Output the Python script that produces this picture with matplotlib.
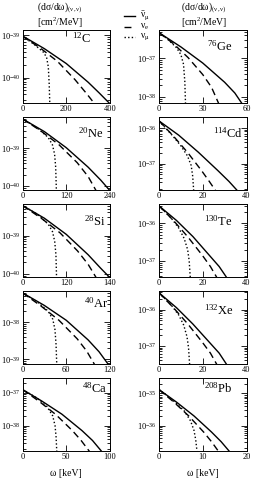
import numpy as np
import matplotlib
matplotlib.use('Agg')
import matplotlib.pyplot as plt
from matplotlib.lines import Line2D
from matplotlib.ticker import LogLocator, NullFormatter, FixedLocator

plt.rcParams['font.family'] = ['Liberation Serif', 'DejaVu Serif']
plt.rcParams['mathtext.fontset'] = 'custom'
plt.rcParams['mathtext.rm'] = 'Liberation Serif'
plt.rcParams['mathtext.it'] = 'Liberation Serif'
plt.rcParams['mathtext.bf'] = 'Liberation Serif:bold'

# panels in reading order: left, right per row
mass = ['12', '76', '20', '114', '28', '130', '40', '132', '48', '208']
element = ['C', 'Ge', 'Ne', 'Cd', 'Si', 'Te', 'Ar', 'Xe', 'Ca', 'Pb']
xmax = [400, 60, 240, 40, 140, 40, 120, 40, 100, 20]
xticks = [[0, 200, 400], [0, 30, 60], [0, 120, 240], [0, 20, 40], [0, 70, 140],
          [0, 20, 40], [0, 60, 120], [0, 20, 40], [0, 50, 100], [0, 10, 20]]
xticklabels = [['0', '200', '400'], ['0', '30', '60'], ['0', '120', '240'], ['0', '20', '40'],
               ['0', '120', '140'], ['0', '20', '40'], ['0', '60', '120'], ['0', '20', '40'],
               ['0', '50', '100'], ['0', '10', '20']]
# log10 of axis limits and labelled decades
ylog_min = [-40.6, -38.16, -40.11, -37.74, -40.08, -37.43, -39.13, -37.50, -38.77, -36.79]
ylog_max = [-38.88, -36.26, -38.16, -35.69, -38.18, -35.48, -37.16, -35.49, -36.55, -34.52]
ydecades = [[-40, -39], [-38, -37], [-40, -39], [-37, -36], [-40, -39],
            [-37, -36], [-39, -38], [-37, -36], [-38, -37], [-36, -35]]

# anti nu_mu (solid): omega [keV], log10 dsigma/domega
bar_x = [[0, 100, 200, 300, 350, 400], [0, 15, 30, 45, 52, 57],
         [0, 60, 120, 180, 215, 240], [0, 9, 18, 27, 32, 36],
         [0, 35, 70, 105, 125, 140], [0, 8, 15.5, 23, 27.5, 31],
         [0, 30, 60, 90, 105, 118], [0, 8, 15.5, 23, 27.5, 31],
         [0, 22, 45, 68, 80, 91], [0, 4, 8, 12, 14.2, 16.2]]
bar_y = [[-39.02, -39.32, -39.67, -40.11, -40.36, -40.62], [-36.33, -36.7, -37.12, -37.62, -37.9, -38.18],
         [-38.21, -38.55, -38.98, -39.5, -39.85, -40.13], [-35.80, -36.2, -36.68, -37.2, -37.5, -37.77],
         [-38.22, -38.55, -38.97, -39.5, -39.85, -40.1], [-35.53, -35.92, -36.35, -36.85, -37.15, -37.45],
         [-37.21, -37.55, -37.95, -38.48, -38.8, -39.15], [-35.54, -35.95, -36.4, -36.9, -37.2, -37.52],
         [-36.9, -37.25, -37.65, -38.15, -38.45, -38.8], [-34.88, -35.27, -35.7, -36.2, -36.5, -36.82]]

# nu_e (dashed)
e_x = [[0, 80, 160, 240, 290, 330], [0, 10, 20, 30, 36, 41],
       [0, 50, 100, 150, 180, 202], [0, 6.5, 13, 19.5, 23, 26],
       [0, 30, 60, 88, 105, 118], [0, 6.6, 13.2, 19.8, 23.5, 26.5],
       [0, 25, 50, 75, 88, 99], [0, 6.6, 13.2, 19.8, 23.5, 26.5],
       [0, 19, 38, 57, 67, 77], [0, 3.4, 6.8, 10.2, 12, 13.7]]
e_y = [[-39.03, -39.30, -39.62, -40.05, -40.36, -40.62], [-36.33, -36.62, -36.98, -37.42, -37.75, -38.18],
       [-38.21, -38.53, -38.9, -39.38, -39.75, -40.13], [-35.80, -36.22, -36.68, -37.2, -37.5, -37.77],
       [-38.22, -38.55, -38.93, -39.4, -39.75, -40.1], [-35.53, -35.92, -36.36, -36.85, -37.15, -37.45],
       [-37.21, -37.56, -37.95, -38.45, -38.78, -39.15], [-35.54, -35.95, -36.4, -36.9, -37.2, -37.52],
       [-36.9, -37.26, -37.66, -38.15, -38.45, -38.8], [-34.88, -35.27, -35.7, -36.2, -36.5, -36.82]]

# nu_mu (dotted)
mu_x = [[0, 49, 95, 110, 118, 122, 125], [0, 6, 12, 15, 16.8, 17.7, 18.2],
        [0, 40, 70, 82, 88, 91, 93], [0, 6, 10, 13, 14.7, 15.4, 15.9],
        [0, 24, 41, 48, 51.5, 53.5, 54.5], [0, 5.5, 9, 11.5, 13.1, 13.8, 14.3],
        [0, 20, 35, 41.5, 44.5, 46, 47], [0, 5.5, 9, 11.3, 12.8, 13.5, 14],
        [0, 16, 28, 34.5, 37.2, 38.4, 39.2], [0, 3.5, 5.8, 7.2, 8.0, 8.4, 8.7]]
mu_y = [[-39.03, -39.2, -39.4, -39.52, -39.75, -40.15, -40.65], [-36.33, -36.5, -36.72, -36.9, -37.15, -37.6, -38.2],
        [-38.21, -38.45, -38.7, -38.9, -39.15, -39.5, -40.15], [-35.80, -36.2, -36.5, -36.78, -37.05, -37.35, -37.8],
        [-38.22, -38.45, -38.7, -38.9, -39.15, -39.5, -40.1], [-35.53, -35.85, -36.12, -36.4, -36.7, -37.0, -37.45],
        [-37.21, -37.45, -37.7, -37.92, -38.2, -38.6, -39.15], [-35.54, -35.87, -36.15, -36.43, -36.75, -37.05, -37.52],
        [-36.9, -37.15, -37.42, -37.7, -38.0, -38.35, -38.8], [-34.88, -35.25, -35.55, -35.85, -36.15, -36.45, -36.82]]

# label positions (axes fraction, top-left of text)
label_pos = [(0.57, 0.99), (0.55, 0.88), (0.64, 0.87), (0.62, 0.87), (0.70, 0.86),
             (0.52, 0.86), (0.70, 0.93), (0.52, 0.84), (0.68, 0.96), (0.51, 0.96)]

W, H = 269, 493
fig = plt.figure(figsize=(W / 100, H / 100), dpi=100)

col_left = [22.5, 159]
panel_w, panel_h = 87.5, 73
row_top = [30, 117, 204, 291, 378]

dash = (0, (5, 3))
dot = (0, (1, 1.6))

for i in range(10):
    r, c = i // 2, i % 2
    ax = fig.add_axes([col_left[c] / W, 1 - (row_top[r] + panel_h) / H, panel_w / W, panel_h / H])
    ax.plot(bar_x[i], 10.0 ** np.array(bar_y[i]), color='black', lw=1.0, ls='-')
    ax.plot(e_x[i], 10.0 ** np.array(e_y[i]), color='black', lw=1.0, ls=dash)
    ax.plot(mu_x[i], 10.0 ** np.array(mu_y[i]), color='black', lw=1.0, ls=dot)
    ax.set_yscale('log')
    ax.set_xlim(0, xmax[i])
    ax.set_ylim(10.0 ** ylog_min[i], 10.0 ** ylog_max[i])
    ax.set_xticks(xticks[i])
    ax.set_xticklabels(xticklabels[i])
    ax.yaxis.set_major_locator(FixedLocator([10.0 ** k for k in ydecades[i]]))
    ax.set_yticklabels([r'10$^{%d}$' % k for k in ydecades[i]])
    ax.yaxis.set_minor_locator(LogLocator(base=10, subs=np.arange(2, 10)))
    ax.yaxis.set_minor_formatter(NullFormatter())
    ax.tick_params(which='both', direction='in', top=True, right=True, width=0.6,
                   labelsize=6, pad=1.5)
    ax.tick_params(which='major', length=4)
    ax.tick_params(which='minor', length=2)
    for s in ax.spines.values():
        s.set_linewidth(0.7)
    ax.text(label_pos[i][0], label_pos[i][1], r'$^{%s}$%s' % (mass[i], element[i]),
            transform=ax.transAxes, ha='left', va='top', fontsize=9)
    if r == 4:
        ax.set_xlabel('ω [keV]', fontsize=7, labelpad=6)

# column headers
for xc in [60, 204]:
    fig.text(xc / W, 1 - 8 / H, r'(d$\sigma$/d$\omega$)$_{(\nu,\nu)}$', ha='center', va='center', fontsize=7)
    fig.text(xc / W, 1 - 23 / H, r'[cm$^{2}$/MeV]', ha='center', va='center', fontsize=7)

# legend
leg_rows = [16, 27, 37]
leg_styles = ['-', dash, dot]
leg_labels = [r'$\bar{\nu}_{\mu}$', r'$\nu_{e}$', r'$\nu_{\mu}$']
for yy, st, lab in zip(leg_rows, leg_styles, leg_labels):
    fig.add_artist(Line2D([124 / W, 135 / W], [1 - yy / H, 1 - yy / H], color='black', lw=1.0, ls=st))
    fig.text(140 / W, 1 - yy / H, lab, ha='left', va='center', fontsize=7)

fig.savefig('out.png', dpi=100)
